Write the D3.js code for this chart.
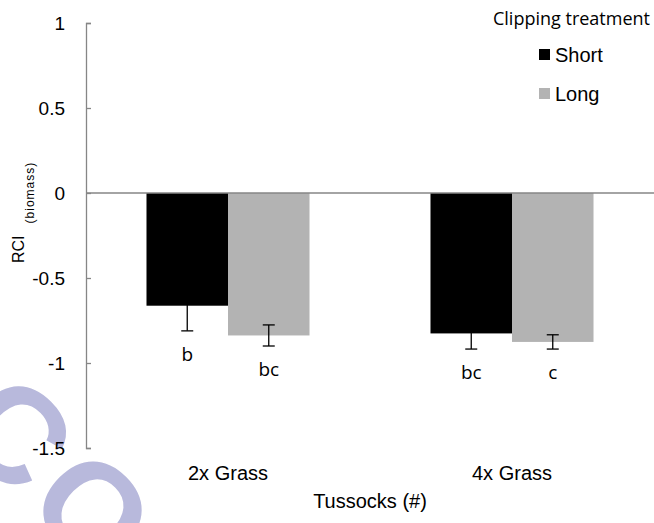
<!DOCTYPE html>
<html>
<head>
<meta charset="utf-8">
<script src="https://cdn.jsdelivr.net/npm/d3@7"></script>
<style>
  html, body { margin: 0; padding: 0; background: #fff; }
  svg { display: block; }
</style>
</head>
<body>
<svg id="chart" width="654" height="523"></svg>
<script>
// ---- data ----
const categories = ["2x Grass", "4x Grass"];
const seriesNames = ["Short", "Long"];
const shortValues = [-0.663, -0.826];
const longValues = [-0.838, -0.876];
const shortErrors = [0.148, 0.092];
const longErrors = [0.062, 0.042];
const shortLetters = ["b", "bc"];
const longLetters = ["bc", "c"];
const yTicks = [-1.5, -1, -0.5, 0, 0.5, 1];
const seriesColors = ["#000000", "#b3b3b3"];

const svg = d3.select("#chart");

// watermark
svg.append("text")
  .attr("transform", "translate(-52,432) rotate(45)")
  .attr("font-family", "Liberation Sans, Arial, sans-serif")
  .attr("font-weight", "bold")
  .attr("font-size", 135)
  .attr("letter-spacing", 8)
  .attr("fill", "#b8b9dc")
  .text("CO");

const y = d3.scaleLinear().domain([-1.5, 1]).range([448, 23]);
const x0 = d3.scaleBand().domain(categories).range([86, 654]).padding(0);
const groupFrac = 0.574;
const x1 = d3.scaleBand().domain(seriesNames)
  .range([x0.bandwidth() * (1 - groupFrac) / 2, x0.bandwidth() * (1 + groupFrac) / 2]).padding(0);

const data = [];
categories.forEach((c, i) => {
  data.push({cat: c, s: "Short", v: shortValues[i], e: shortErrors[i], l: shortLetters[i], col: seriesColors[0]});
  data.push({cat: c, s: "Long", v: longValues[i], e: longErrors[i], l: longLetters[i], col: seriesColors[1]});
});

// bars
svg.append("g").selectAll("rect").data(data).join("rect")
  .attr("x", d => x0(d.cat) + x1(d.s))
  .attr("width", x1.bandwidth())
  .attr("y", d => y(Math.max(0, d.v)))
  .attr("height", d => Math.abs(y(d.v) - y(0)))
  .attr("fill", d => d.col);

// error bars
const eg = svg.append("g").attr("stroke", "#000").attr("stroke-width", 1.3);
data.forEach(d => {
  const cx = x0(d.cat) + x1(d.s) + x1.bandwidth() / 2;
  eg.append("line").attr("x1", cx).attr("x2", cx).attr("y1", y(d.v + d.e)).attr("y2", y(d.v - d.e));
  eg.append("line").attr("x1", cx - 6).attr("x2", cx + 6).attr("y1", y(d.v + d.e)).attr("y2", y(d.v + d.e));
  eg.append("line").attr("x1", cx - 6).attr("x2", cx + 6).attr("y1", y(d.v - d.e)).attr("y2", y(d.v - d.e));
});

// significance letters
svg.append("g").selectAll("text").data(data).join("text")
  .attr("x", d => x0(d.cat) + x1(d.s) + x1.bandwidth() / 2)
  .attr("y", d => y(d.v - d.e) + 30)
  .attr("text-anchor", "middle")
  .attr("font-family", "Open Sans, sans-serif")
  .attr("font-size", 19)
  .attr("fill", "#000")
  .text(d => d.l);

// zero line (category axis)
svg.append("line")
  .attr("x1", 86).attr("x2", 654).attr("y1", y(0)).attr("y2", y(0))
  .attr("stroke", "#868686").attr("stroke-width", 1.3);

// y axis
const yAxis = d3.axisRight(y).tickValues(yTicks).tickSize(5).tickFormat(d => String(d));
const ya = svg.append("g").attr("transform", "translate(86,0)").call(yAxis);
ya.select(".domain").attr("stroke", "#868686").attr("stroke-width", 1.3);
ya.selectAll(".tick line").attr("stroke", "#868686").attr("stroke-width", 1.3);
ya.selectAll(".tick text")
  .attr("x", -21).attr("text-anchor", "end")
  .attr("font-family", "Liberation Sans, Arial, sans-serif")
  .attr("font-size", 19).attr("fill", "#000");

// category labels
svg.append("g").selectAll("text").data(categories).join("text")
  .attr("x", d => x0(d) + x0.bandwidth() / 2)
  .attr("y", 480)
  .attr("text-anchor", "middle")
  .attr("font-family", "Liberation Sans, Arial, sans-serif")
  .attr("font-size", 20)
  .text(d => d);

// x title
svg.append("text")
  .attr("x", 370).attr("y", 508)
  .attr("text-anchor", "middle")
  .attr("font-family", "Liberation Sans, Arial, sans-serif")
  .attr("font-size", 20)
  .text("Tussocks (#)");

// y title
const yt = svg.append("text")
  .attr("transform", "translate(24,263) rotate(-90)")
  .attr("font-family", "Liberation Sans, Arial, sans-serif")
  .attr("font-size", 16);
yt.append("tspan").text("RCI");
yt.append("tspan").attr("dx", 12).attr("dy", 10).attr("font-size", 12).attr("letter-spacing", 1).text("(biomass)");

// legend
svg.append("text")
  .attr("x", 650).attr("y", 25).attr("text-anchor", "end")
  .attr("font-family", "Open Sans, sans-serif").attr("font-size", 18)
  .text("Clipping treatment");
const lg = svg.append("g").selectAll("g").data(seriesNames).join("g")
  .attr("transform", (d, i) => `translate(539, ${49 + i * 39})`);
lg.append("rect").attr("width", 11).attr("height", 11).attr("fill", (d, i) => seriesColors[i]);
lg.append("text").attr("x", 16).attr("y", 13)
  .attr("font-family", "Liberation Sans, Arial, sans-serif").attr("font-size", 20)
  .text(d => d);
</script>
</body>
</html>
